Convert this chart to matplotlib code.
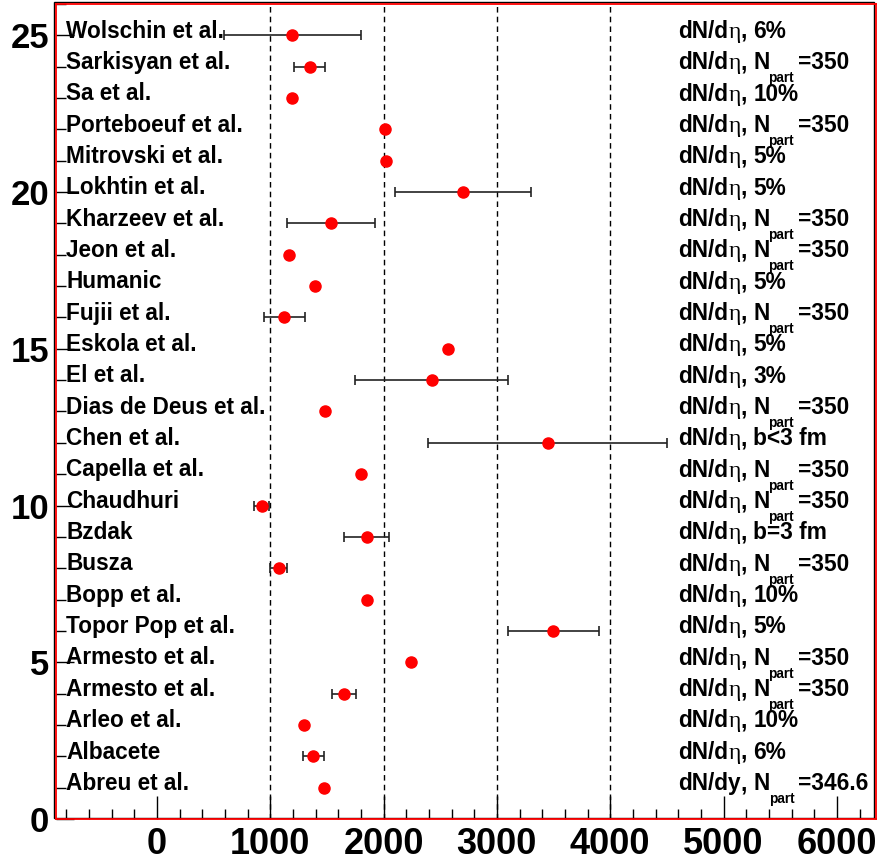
import matplotlib

matplotlib.use("Agg")
import matplotlib.pyplot as plt
import numpy as np
from matplotlib.patches import Rectangle
from matplotlib.ticker import MultipleLocator
from matplotlib.transforms import ScaledTranslation, offset_copy

plt.rcParams["font.family"] = "Liberation Sans"
plt.rcParams["font.weight"] = "bold"

# -----------------------------------------------------------------------------
# Data (bottom row first)
# -----------------------------------------------------------------------------
names = [
    "Abreu et al.", "Albacete", "Arleo et al.", "Armesto et al.", "Armesto et al.",
    "Topor Pop et al.", "Bopp et al.", "Busza", "Bzdak", "Chaudhuri",
    "Capella et al.", "Chen et al.", "Dias de Deus et al.", "El et al.", "Eskola et al.",
    "Fujii et al.", "Humanic", "Jeon et al.", "Kharzeev et al.", "Lokhtin et al.",
    "Mitrovski et al.", "Porteboeuf et al.", "Sa et al.", "Sarkisyan et al.", "Wolschin et al.",
]
values = np.array([
    1475, 1380, 1295, 1655, 2245, 3495, 1850, 1080, 1850, 925,
    1800, 3450, 1485, 2425, 2565, 1125, 1395, 1170, 1540, 2700,
    2025, 2010, 1195, 1350, 1195,
])
err_lo = np.array([
    0, 92, 0, 108, 0, 395, 0, 80, 197, 71,
    0, 1055, 0, 680, 0, 180, 0, 0, 388, 600,
    0, 0, 0, 136, 600,
])
err_hi = np.array([
    0, 93, 0, 104, 0, 405, 0, 67, 200, 62,
    0, 1048, 0, 677, 0, 185, 0, 0, 385, 600,
    0, 0, 0, 134, 603,
])
notes = [
    "dN/dy, N_{part}=346.6", "dN/dη, 6%", "dN/dη, 10%", "dN/dη, N_{part}=350",
    "dN/dη, N_{part}=350", "dN/dη, 5%", "dN/dη, 10%", "dN/dη, N_{part}=350",
    "dN/dη, b=3 fm", "dN/dη, N_{part}=350", "dN/dη, N_{part}=350", "dN/dη, b<3 fm",
    "dN/dη, N_{part}=350", "dN/dη, 3%", "dN/dη, 5%", "dN/dη, N_{part}=350",
    "dN/dη, 5%", "dN/dη, N_{part}=350", "dN/dη, N_{part}=350", "dN/dη, 5%",
    "dN/dη, 5%", "dN/dη, N_{part}=350", "dN/dη, 10%", "dN/dη, N_{part}=350",
    "dN/dη, 6%",
]
grid_x = [1000, 2000, 3000, 4000]

LABEL_X = -800
NOTE_X = 4600
FS = 16.3

# -----------------------------------------------------------------------------
# Figure
# -----------------------------------------------------------------------------
fig = plt.figure(figsize=(8.79, 8.63), dpi=100)
ax = fig.add_axes([56 / 879, 1 - 819 / 863, 820 / 879, 815 / 863])
ax.set_xlim(-890, 6345)
ax.set_ylim(0, 26)

rows = np.arange(1, len(names) + 1)

for xv in grid_x:
    ax.axvline(xv, color="black", ls=(0, (4, 3)), lw=1, zorder=1)

has_err = (err_lo + err_hi) > 0
ax.errorbar(
    values[has_err],
    rows[has_err],
    xerr=[err_lo[has_err], err_hi[has_err]],
    fmt="none",
    ecolor="#222222",
    elinewidth=1.2,
    capsize=3.5,
    capthick=1.2,
    zorder=2,
)
ax.plot(values, rows, "o", color="red", ms=8, ls="none", zorder=3)

for r, n in zip(rows, names):
    ax.text(LABEL_X, r - 0.07, n, fontsize=FS, va="baseline", ha="left")

renderer = fig.canvas.get_renderer()


def put(y, dx, dy, s, **kw):
    tr = offset_copy(ax.transData, fig=fig, x=dx, y=dy, units="dots")
    t = ax.text(NOTE_X, y, s, transform=tr, va="baseline", ha="left", **kw)
    return t.get_window_extent(renderer).width


def draw_note(y, note):
    main, rest = note.split(", ", 1)
    x = 0.0
    if "η" in main:
        x += put(y, x, 0, main[:-1], fontsize=FS)
        x += put(y, x, 0, "η", fontsize=FS * 1.05, family="Liberation Serif", fontweight="normal")
    else:
        x += put(y, x, 0, main, fontsize=FS)
    x += put(y, x, 0, ",", fontsize=FS)
    x += 0.278 * FS * 100 / 72
    if "_{part}" in rest:
        pre, post = rest.split("_{part}")
        x += put(y, x, 0, pre, fontsize=FS)
        x -= 1
        x += put(y, x, -13, "part", fontsize=FS * 0.6)
        x += 4
        put(y, x, 0, post, fontsize=FS)
    else:
        put(y, x, 0, rest, fontsize=FS)


for r, note in zip(rows, notes):
    draw_note(r - 0.08, note)

# Axes styling (ROOT-like frame: red box with black shadow box)
ax.xaxis.set_major_locator(MultipleLocator(1000))
ax.xaxis.set_minor_locator(MultipleLocator(200))
ax.yaxis.set_major_locator(MultipleLocator(5))
ax.yaxis.set_minor_locator(MultipleLocator(1))
ax.tick_params(axis="x", which="major", direction="in", length=16.5, width=1, labelsize=26, pad=6)
ax.tick_params(axis="x", which="minor", direction="in", length=7, width=1)
ax.tick_params(axis="y", which="major", direction="in", length=13, width=1, labelsize=25, pad=5)
ax.tick_params(axis="y", which="minor", direction="in", length=7, width=1)
ax.tick_params(top=False, right=False, which="both")

for sp in ax.spines.values():
    sp.set_color("red")
    sp.set_linewidth(1.3)
shadow = Rectangle(
    (0, 0), 1, 1,
    transform=ax.transAxes + ScaledTranslation(-1.5 / 100, 1.5 / 100, fig.dpi_scale_trans),
    fill=False, ec="black", lw=1, clip_on=False, zorder=0,
)
ax.add_patch(shadow)

fig.savefig("out.png", dpi=100)
